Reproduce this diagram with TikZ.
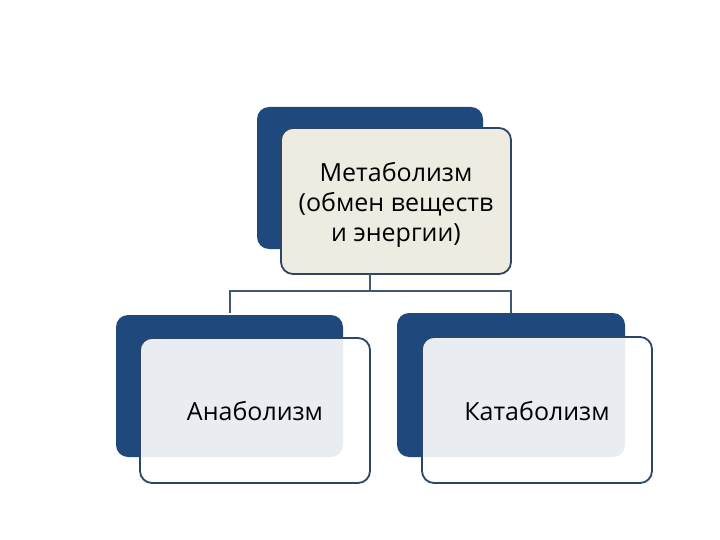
\documentclass[tikz,border=0pt]{standalone}
\usepackage{fontspec}
\setmainfont{Open Sans}
\definecolor{backblue}{HTML}{1F497D}
\definecolor{edgeblue}{HTML}{2B4666}
\definecolor{linkblue}{HTML}{3F5873}
\definecolor{beige}{HTML}{EEECE1}
\tikzset{
  backbox/.style={fill=backblue, rounded corners=12pt},
  frontbox/.style={draw=edgeblue, line width=1.8pt, rounded corners=12pt},
  topfront/.style={frontbox, fill=beige},
  lowfront/.style={frontbox, fill=white, fill opacity=0.9, draw opacity=1},
  label/.style={font=\fontsize{25}{30}\selectfont, align=center, text=black, text opacity=1, inner sep=0pt},
  link/.style={draw=linkblue, line width=1.6pt}
}
\begin{document}
\begin{tikzpicture}[x=1pt,y=-1pt]
\useasboundingbox (0,0) rectangle (720,540);
% top
\fill[backbox] (257,107) rectangle (483,249);
\draw[topfront] (281,128) rectangle (511,274);
\node[label] (top) at (396,205) {Метаболизм\\(обмен веществ\\и энергии)};
\coordinate (topb) at (370,274);
% left
\fill[backbox] (116,315) rectangle (343,457);
\draw[lowfront] (140,338) rectangle (370,483);
\node[label] (ana) at (255,411) {Анаболизм};
\coordinate (lefttop) at (230,313);
% right
\fill[backbox] (397,313) rectangle (625,457);
\draw[lowfront] (422,337) rectangle (652,483);
\node[label] (kata) at (537,411) {Катаболизм};
\coordinate (righttop) at (511,313);
% connectors
\coordinate (mid) at (370,291);
\draw[link] (topb) -- (mid);
\draw[link] (lefttop) |- (mid) -| (righttop);
\end{tikzpicture}
\end{document}
